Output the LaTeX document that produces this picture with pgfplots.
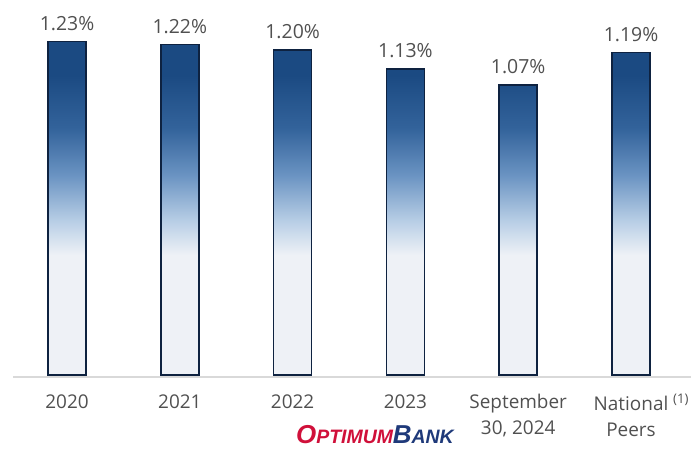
\documentclass[border=0pt]{standalone}
\usepackage{fontspec}
\setmainfont{Open Sans}
\newfontfamily\logofont{Liberation Sans}
\usepackage{pgfplots}
\pgfplotsset{compat=1.18}

\definecolor{barlight}{HTML}{EEF1F6}
\definecolor{barpale}{HTML}{B9CFE6}
\definecolor{barmid}{HTML}{6A93C2}
\definecolor{barmid2}{HTML}{33639B}
\definecolor{bardark}{HTML}{1B4A82}
\definecolor{baredge}{HTML}{0E2240}
\definecolor{labelgray}{HTML}{505050}
\definecolor{logored}{HTML}{D0103A}
\definecolor{logonavy}{HTML}{1F3A7A}

% bar box maps to 25bp..75bp of the shading
\pgfdeclareverticalshading{barshade}{100bp}{%
  color(0bp)=(barlight); color(25bp)=(barlight); color(43bp)=(barlight);
  color(48bp)=(barpale); color(55bp)=(barmid); color(62bp)=(barmid2);
  color(70bp)=(bardark); color(100bp)=(bardark)}

\begin{document}
\begin{tikzpicture}
\path[use as bounding box] (-13bp,-74bp) rectangle (678bp,375bp);
\begin{axis}[
    scale only axis,
    width=678bp, height=375bp,
    xmin=-0.479, xmax=5.532,
    ymin=0, ymax=1.384,
    clip=false,
    axis line style={draw=none},
    major tick length=0pt,
    ytick=\empty,
    xtick={0,1,2,3,4,5},
    xticklabels={2020,2021,2022,2023,{September\\30, 2024},{National\rlap{\ \textsuperscript{(1)}}\\Peers}},
    xticklabel style={align=center, text=labelgray,
        font=\fontsize{19}{26}\selectfont, yshift=-16bp},
    /pgf/number format/assume math mode=true,
    ybar, bar width=38bp,
    nodes near coords={\pgfmathprintnumber[fixed,fixed zerofill,precision=2]{\pgfplotspointmeta}\%},
    every node near coord/.append style={text=labelgray,
        font=\fontsize{19.5}{22}\selectfont, anchor=south, yshift=7bp},
]
\addplot[draw=baredge, line width=1.5bp, shading=barshade] coordinates {
    (0,1.23) (1,1.22) (2,1.20) (3,1.13) (4,1.07) (5,1.19)
};
\draw[black!15, line width=1.2bp] ([yshift=-2bp]rel axis cs:0,0) -- ([yshift=-2bp]rel axis cs:1,0);
\end{axis}
\node[anchor=base, inner sep=0pt] at (362bp,-68bp) {\logofont\bfseries\itshape
  \textcolor{logored}{\fontsize{26}{26}\selectfont O\fontsize{19.5}{26}\selectfont PTIMUM}%
  \textcolor{logonavy}{\fontsize{26}{26}\selectfont B\fontsize{19.5}{26}\selectfont ANK}};
\end{tikzpicture}
\end{document}
